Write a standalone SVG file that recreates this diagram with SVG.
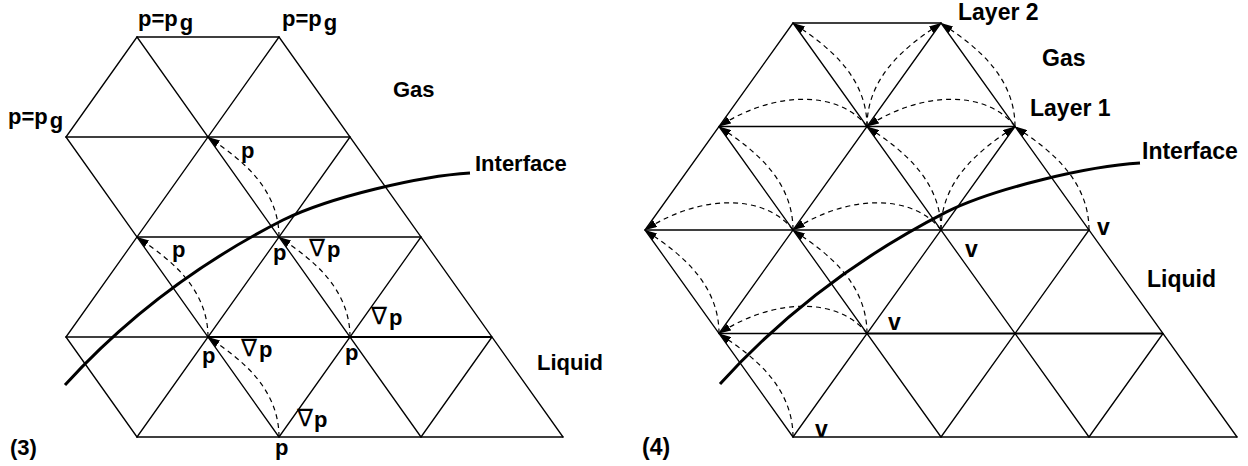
<svg xmlns="http://www.w3.org/2000/svg" width="1248" height="466" viewBox="0 0 1248 466">
<style>
.g{stroke:#000;stroke-width:1.3;fill:none;stroke-linecap:round}
.gb{stroke:#000;stroke-width:2.2;fill:none}
.d{stroke:#000;stroke-width:1.2;fill:none;stroke-dasharray:5,4;marker-end:url(#ah)}
.if{stroke:#000;stroke-width:3;fill:none;stroke-linecap:butt}
text{font-family:"Liberation Sans",Arial,Helvetica,sans-serif;font-weight:bold;fill:#000}
.l{font-size:22px}
.r{font-size:23px}
.nab{font-family:"DejaVu Sans",sans-serif;font-weight:normal;font-size:24px}
</style>
<defs>
<marker id="ah" viewBox="0 0 12 8" refX="12" refY="4" markerWidth="12" markerHeight="8" markerUnits="userSpaceOnUse" orient="auto">
<path d="M0,0 L12,4 L0,8 z" fill="#000"/>
</marker>
</defs>
<rect width="1248" height="466" fill="#fff"/>

<g id="grid-left">
<path class="g" d="M137,37H279 M66,137H350 M137,237H421 M66,337H208 M137,437H563"/>
<path class="gb" d="M208,337H492"/>
<path class="g" d="M137,37L421,437 M279,37L563,437 M66,137L279,437 M66,337L137,437"/>
<path class="g" d="M137,37L66,137 M279,37L66,337 M350,137L137,437 M421,237L279,437 M492,337L421,437"/>
</g>

<g id="grid-right">
<path class="g" d="M793,23H941 M719,126.5H1015 M645,230H1089 M719,333.5H867 M793,437H1237"/>
<path class="gb" d="M867,333.5H1163"/>
<path class="g" d="M793,23L1089,437 M941,23L1237,437 M719,126.5L941,437 M645,230L793,437"/>
<path class="g" d="M793,23L645,230 M941,23L719,333.5 M1015,126.5L793,437 M1089,230L941,437 M1163,333.5L1089,437"/>
</g>

<g id="connectors">
<path class="d" d="M279,237 C279,182 229.3,152 208,137"/>
<path class="d" d="M208,337 C208,282 158.3,252 137,237"/>
<path class="d" d="M350,337 C350,282 300.3,252 279,237"/>
<path class="d" d="M279,437 C279,382 229.3,352 208,337"/>

<path class="d" d="M867,126.5 C867,69.5 815.2,38.5 793,23"/>
<path class="d" d="M1015,126.5 C1015,69.5 963.2,38.5 941,23"/>
<path class="d" d="M793,230 C793,173 741.2,142 719,126.5"/>
<path class="d" d="M941,230 C941,173 889.2,142 867,126.5"/>
<path class="d" d="M1089,230 C1089,173 1037.2,142 1015,126.5"/>
<path class="d" d="M719,333.5 C719,276.5 667.2,245.5 645,230"/>
<path class="d" d="M867,333.5 C867,276.5 815.2,245.5 793,230"/>
<path class="d" d="M793,437 C793,380 741.2,349 719,333.5"/>
<path class="d" d="M867,126.5 C867,69.5 918.8,38.5 941,23"/>
<path class="d" d="M941,230 C941,173 992.8,142 1015,126.5"/>
<path class="d" d="M867,126.5 C841.1,92.3 778.2,88.2 719,126.5"/>
<path class="d" d="M1015,126.5 C989.1,92.3 926.2,88.2 867,126.5"/>
<path class="d" d="M793,230 C767.1,195.8 704.2,191.7 645,230"/>
<path class="d" d="M941,230 C915.1,195.8 852.2,191.7 793,230"/>
<path class="d" d="M867,333.5 C841.1,299.3 778.2,295.2 719,333.5"/>
</g>

<g id="interface-left">
<path class="if" d="M65,385 C115,330 185,270 283,220 C330,197 420,176 470,173"/>
</g>
<g id="interface-right">
<path class="if" d="M720,384 C771.9,326.7 844.4,264.2 946.1,212.1 C994.8,188.1 1088.1,166.2 1140,163.1"/>
</g>

<g id="labels-left">
<text class="l" x="138" y="26">p=p<tspan dx="2" dy="4">g</tspan></text>
<text class="l" x="282" y="26">p=p<tspan dx="2" dy="4">g</tspan></text>
<text class="l" x="8" y="124">p=p<tspan dx="2" dy="4">g</tspan></text>
<text class="l" x="393" y="97">Gas</text>
<text class="l" x="475" y="171">Interface</text>
<text class="l" x="537" y="370">Liquid</text>
<text class="l" x="10" y="455">(3)</text>
<text class="l" x="241" y="158">p</text>
<text class="l" x="172" y="257">p</text>
<text class="l" x="273" y="260">p</text>
<text class="l" x="202" y="363">p</text>
<text class="l" x="345" y="360">p</text>
<text class="l" x="275" y="455">p</text>
<text class="l" x="309" y="257"><tspan class="nab" y="256">∇</tspan><tspan x="327" y="257">p</tspan></text>
<text class="l" x="371" y="325"><tspan class="nab" y="324">∇</tspan><tspan x="389" y="325">p</tspan></text>
<text class="l" x="241" y="357"><tspan class="nab" y="356">∇</tspan><tspan x="259" y="357">p</tspan></text>
<text class="l" x="297" y="427"><tspan class="nab" y="426">∇</tspan><tspan x="314" y="427">p</tspan></text>
</g>

<g id="labels-right">
<text class="r" x="958" y="20">Layer 2</text>
<text class="r" x="1042" y="66">Gas</text>
<text class="r" x="1030" y="116">Layer 1</text>
<text class="r" x="1142" y="159">Interface</text>
<text class="r" x="1147" y="287">Liquid</text>
<text class="r" x="642" y="455">(4)</text>
<text class="r" x="1097" y="235">v</text>
<text class="r" x="965" y="257">v</text>
<text class="r" x="888" y="330">v</text>
<text class="r" x="815" y="437">v</text>
</g>
</svg>
